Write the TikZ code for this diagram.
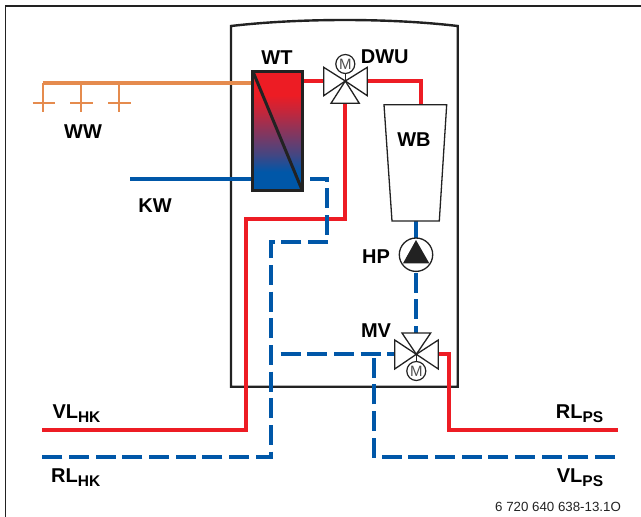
\documentclass[tikz,border=0pt]{standalone}
\usepackage{fontspec}
\setmainfont{Liberation Sans}
\definecolor{pipered}{HTML}{ED1C24}
\definecolor{pipeblue}{HTML}{0057A8}
\definecolor{pipeorange}{HTML}{E58B4E}
\definecolor{ink}{HTML}{222222}
\pgfdeclareverticalshading{wtshade}{100bp}{
  color(0bp)=(pipeblue);
  color(33bp)=(pipeblue);
  color(40bp)=(pipeblue!72!pipered);
  color(50bp)=(pipeblue!42!pipered);
  color(58bp)=(pipeblue!18!pipered);
  color(65bp)=(pipered);
  color(100bp)=(pipered)}
\tikzset{
  x=1pt,y=-1pt,
  hotpipe/.style={draw=pipered,line width=3.8pt,line join=miter},
  coldsolid/.style={draw=pipeblue,line width=3.8pt},
  colddash/.style={draw=pipeblue,line width=3.8pt,dash pattern=on 20pt off 6.67pt},
  wwpipe/.style={draw=pipeorange,line width=3.8pt},
  wwthin/.style={draw=pipeorange,line width=2pt},
  valve/.style={draw=ink,fill=white,line width=1.3pt,line join=miter},
  motor/.style={circle,draw=ink,fill=white,line width=1.2pt,minimum size=19pt,inner sep=0pt,
    text=ink!80,font=\fontsize{15}{15}\selectfont},
  lab/.style={inner sep=0pt,text=black,font=\bfseries\fontsize{20}{20}\selectfont},
  sublab/.style={lab,anchor=base west}
}
\newcommand{\pipelabel}[2]{#1\raisebox{-4.5pt}{\fontsize{15.5}{15.5}\selectfont #2}}
\begin{document}
\begin{tikzpicture}
\useasboundingbox (0,0) rectangle (641,517);
% outer frame (left and top only)
\coordinate (fa) at (641,6);
\coordinate (fb) at (5.5,6);
\coordinate (fc) at (5.5,517);
\draw[ink,line width=1.8pt] (fa) -- (fb) -- (fc);
% housing
\draw[ink,line width=2.4pt,line join=miter]
  (231,26) .. controls (300,18) and (390,18) .. (457.7,26) -- (457.7,386.7) -- (231,386.7) -- cycle;

% named points
\coordinate (wtR) at (302,81);
\coordinate (wtOut) at (310,178.7);
\coordinate (dwuC) at (345.3,81);
\coordinate (dwuL) at (323.7,81);
\coordinate (dwuR) at (367.3,81);
\coordinate (dwuB) at (345.3,103.3);
\coordinate (wbT) at (420.7,104.7);
\coordinate (wbB) at (416,221);
\coordinate (mvC) at (416.3,354.3);
\coordinate (mvT) at (416,333);
\coordinate (mvL) at (394.7,354.3);
\coordinate (mvR) at (438.3,354.3);
\coordinate (vlhk) at (42,430.3);
\coordinate (rlhk) at (42,456.7);
\coordinate (rlps) at (618,430.3);
\coordinate (vlps) at (615,456.7);
\coordinate (kw) at (130,178.7);
\coordinate (ww) at (42.5,83.3);
\coordinate (dashA) at (327,235);
\coordinate (dashB) at (328,242.3);
\coordinate (dashC) at (280.7,354.3);
\coordinate (dashD) at (373.7,457.7);
\coordinate (dashE) at (373.7,354.3);
\coordinate (dashF) at (381.7,456.7);

% heat exchanger node
\node[draw=none,minimum width=49.3pt,minimum height=119.4pt,inner sep=0pt] (wt) at (277.6,131) {};

% red pipes
\draw[hotpipe] (wtR) -- (dwuL);
\draw[hotpipe] (dwuR) -- (420.7,81) -- (wbT);
\draw[hotpipe] (dwuB) -- (345.3,219.3) -- (246,219.3) -- (246,430.3) -- (vlhk);
\draw[hotpipe] (mvR) -- (448.7,354.3) -- (448.7,430.3) -- (rlps);
% orange pipes
\draw[wwthin] (43.3,83.3) -- (43.3,111.7);
\draw[wwthin] (81,83.3) -- (81,111.7);
\draw[wwthin] (118.7,83.3) -- (118.7,111.7);
\draw[wwthin] (32.7,103) -- (55,103);
\draw[wwthin] (70.3,103) -- (93,103);
\draw[wwthin] (108,103) -- (130.7,103);
\draw[wwpipe] (ww) -- (wt.west |- ww);
% blue pipes
\draw[coldsolid] (kw) -- (wt.west |- kw);
\draw[coldsolid] (wbB) -- (416,238);
\draw[colddash] (wtOut) -- (327,178.7) -- (dashA);
\draw[colddash] (dashB) -- (270.7,242.3) -- (270.7,456.7) -- (rlhk);
\draw[colddash] (dashC) -- (mvL);
\draw[colddash] (dashD) -- (dashE);
\draw[colddash] (vlps) -- (dashF);
\draw[colddash] (416,272.7) -- (mvT);

% heat exchanger
\shade[shading=wtshade] (wt.south west) rectangle (wt.north east);
\draw[ink,line width=3pt,line join=miter] (wt.north west) rectangle (wt.south east);
\draw[ink,line width=3pt] (wt.north west) -- (wt.south east);

% storage
\draw[ink,fill=white,line width=1.3pt] (384,104.7) -- (446.7,104.7) -- (439.3,221) -- (392,221) -- cycle;

% DWU valve
\draw[valve] (dwuC) -- (323.7,67.3) -- (323.7,95.7) -- cycle;
\draw[valve] (dwuC) -- (367.3,67.3) -- (367.3,95.7) -- cycle;
\draw[valve] (dwuC) -- (331,103.3) -- (359.3,103.3) -- cycle;
\node[motor] (dwuM) at (345.3,64) {M};
\draw[ink,line width=1.2pt] (dwuM) -- (dwuC);

% MV valve
\draw[valve] (mvC) -- (394.7,340) -- (394.7,369) -- cycle;
\draw[valve] (mvC) -- (438.3,340) -- (438.3,369) -- cycle;
\draw[valve] (mvC) -- (402,333) -- (430.7,333) -- cycle;
\node[motor] (mvM) at (416.3,371) {M};
\draw[ink,line width=1.2pt] (mvM) -- (mvC);

% pump
\node[circle,draw=ink,fill=white,line width=1.3pt,minimum size=33.4pt,inner sep=0pt] (hp) at (416,254.7) {};
\fill[ink] (416,240) -- (429.3,263.3) -- (403,263.3) -- cycle;

% labels
\node[lab] (tWT) at (277,57.5) {WT};
\node[lab] (tDWU) at (384.8,56.5) {DWU};
\node[lab] (tWB) at (414,139.5) {WB};
\node[lab] (tHP) at (376,256.5) {HP};
\node[lab] (tMV) at (376,331) {MV};
\node[lab] (tWW) at (83,132) {WW};
\node[lab] (tKW) at (155,206) {KW};
\node[sublab] (tVLHK) at (52.3,418) {\pipelabel{VL}{HK}};
\node[sublab] (tRLHK) at (51,482) {\pipelabel{RL}{HK}};
\node[sublab] (tRLPS) at (555.7,418) {\pipelabel{RL}{PS}};
\node[sublab] (tVLPS) at (556.7,482) {\pipelabel{VL}{PS}};
\node[inner sep=0pt,anchor=base west,text=ink,font=\fontsize{13.3}{13.3}\selectfont] (tNr) at (495,511.7) {6 720 640 638-13.1O};
\end{tikzpicture}
\end{document}
